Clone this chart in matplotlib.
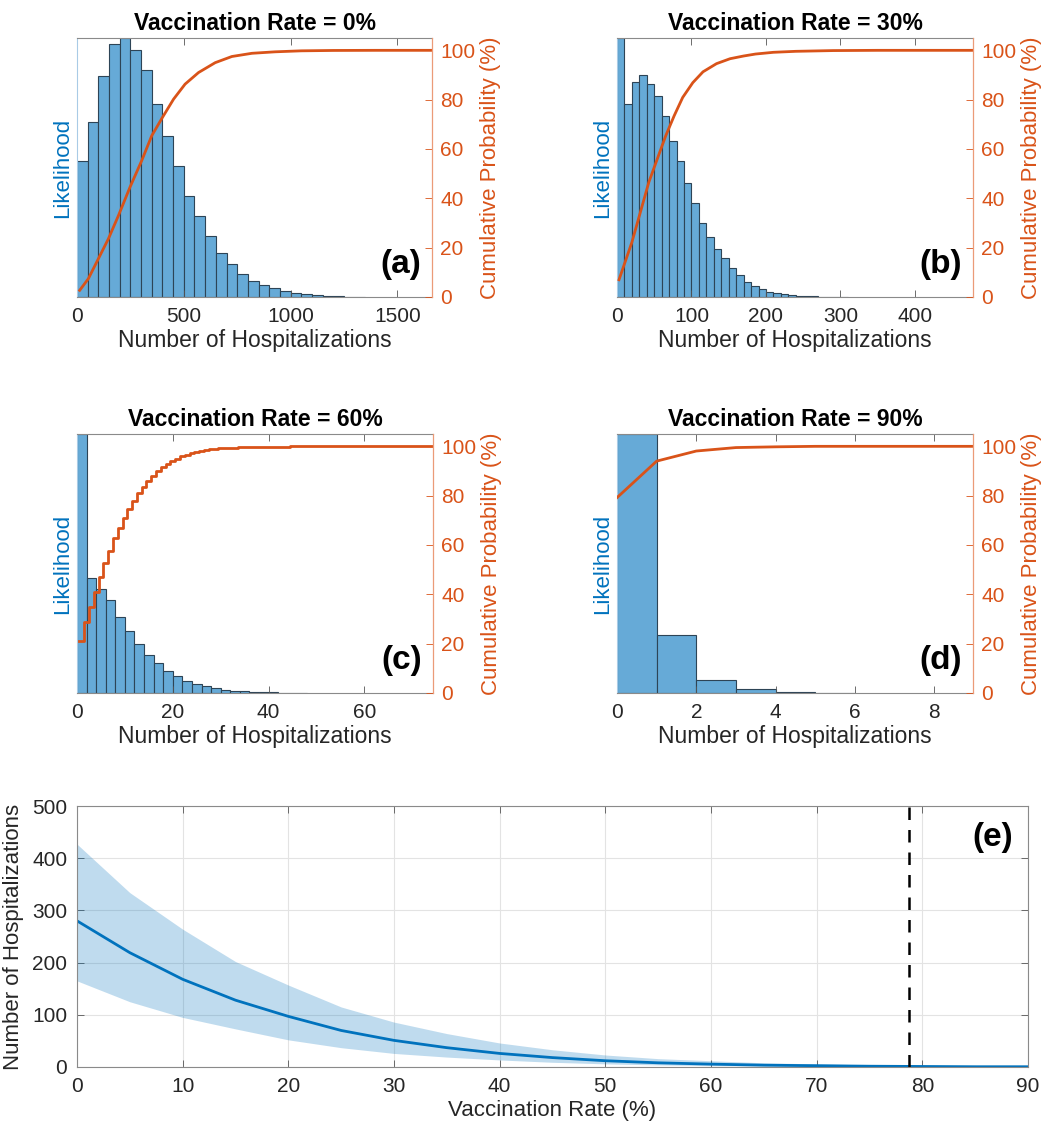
import matplotlib
matplotlib.use('Agg')
import matplotlib.pyplot as plt
import numpy as np

plt.rcParams['font.family'] = ['Liberation Sans', 'DejaVu Sans']

BLUE = '#0072BD'
ORANGE = '#D95319'
BAR = '#66aad7'
EDGE = '#2d4456'
TXT = '#262626'

# ---- histogram data (relative heights) ----
rates = ['0%', '30%', '60%', '90%']
panel_tags = ['(a)', '(b)', '(c)', '(d)']
bin_widths = [50, 10, 2, 1]
x_limits = [1662, 478, 74.3, 8.98]
x_ticks = [[0, 500, 1000, 1500], [0, 100, 200, 300, 400], [0, 20, 40, 60], [0, 2, 4, 6, 8]]

hist_a = [408, 526, 665, 760, 778, 743, 683, 581, 485, 393, 303, 243, 183, 133,
          100, 70, 49, 35, 27, 18, 12, 8, 5, 3, 2, 1, 1]
hist_b = [778, 581, 646, 666, 641, 605, 545, 470, 410, 341, 281, 221, 181, 143,
          117, 88, 66, 46, 33, 23, 16, 11, 8, 5, 4, 3, 2, 1, 1, 0.5, 0.5]
hist_c = [778, 344, 313, 278, 228, 186, 146, 114, 89, 67, 52, 37, 27, 20, 14,
          10, 7, 5, 4, 3, 2, 1.5, 1, 0.5]
hist_d = [778, 175, 39, 12, 4, 1]

# ---- cumulative probability curves (%) ----
cdf_a_x = [12.5, 53, 100, 147, 194, 248, 303, 350, 400, 452, 506, 569, 647,
           725, 819, 928, 1050, 1200, 1400, 1662]
cdf_a_y = [2.7, 7.4, 15.5, 23.6, 33, 44.5, 55.3, 65.4, 72.8, 80.2, 86.3, 91,
           95, 97.5, 98.8, 99.4, 99.8, 99.95, 100, 100]

cdf_b_x = [2.7, 10.9, 20, 31.4, 42.7, 54, 65.5, 76.8, 88.2, 101.8, 115.5,
           133.6, 151.8, 170, 186, 210, 240, 290, 350, 478]
cdf_b_y = [7, 14.2, 22.2, 34.4, 46.5, 55.9, 65.4, 73.5, 80.9, 86.9, 91.3,
           94.6, 96.6, 97.7, 98.5, 99.2, 99.6, 99.9, 100, 100]

cdf_c_x = [0.5, 1.5, 2.5, 3.5, 4.5, 5.5, 6.5, 7.5, 8.5, 9.5, 10.5, 11.5, 12.5,
           13.5, 14.5, 15.5, 16.5, 17.5, 18.5, 19.5, 20.5, 21.5, 22.5, 23.5,
           24.5, 25.5, 26.5, 27.5, 28.5, 29.5, 31.5, 33.5, 35.5, 37.5, 39.5,
           44.5, 74.3]
cdf_c_y = [20.9, 28.6, 35.0, 41.1, 47.2, 52.6, 57.7, 62.7, 66.7, 70.8, 74.4,
           77.9, 80.9, 83.6, 86.0, 88.1, 90.0, 91.6, 93.0, 94.1, 95.0, 96.0,
           96.6, 97.3, 97.8, 98.3, 98.6, 98.9, 99.1, 99.3, 99.45, 99.65, 99.8,
           99.88, 99.93, 100, 100]

cdf_d_x = [0, 1, 2, 3, 4, 5, 6, 7, 8, 9]
cdf_d_y = [79.2, 94, 98.1, 99.5, 99.8, 100, 100, 100, 100, 100]

hists = [hist_a, hist_b, hist_c, hist_d]
cdfs = [(cdf_a_x, cdf_a_y, False), (cdf_b_x, cdf_b_y, False),
        (cdf_c_x, cdf_c_y, True), (cdf_d_x, cdf_d_y, False)]

# ---- panel (e) data ----
vacc = [0, 5, 10, 15, 20, 25, 30, 35, 40, 45, 50, 55, 60, 65, 70, 75, 80, 85, 90]
hosp_mean = [280, 219, 168, 128, 97, 70, 51, 37, 26, 18, 12, 8, 5.5, 3.5, 2.5, 1.5, 1, 0.5, 0.5]
hosp_upper = [427, 334, 264, 202, 157, 115, 86, 64, 46, 33, 23, 16, 12, 8, 6, 4, 2.5, 2, 1.5]
hosp_lower = [165, 125, 95, 73, 52, 37, 26, 19, 13.5, 9, 6, 4, 2.5, 2, 1.3, 0.5, 0.3, 0.2, 0.1]
threshold = 78.7

W, H = 1048, 1129
fig = plt.figure(figsize=(W / 100, H / 100), dpi=100)

# axes boxes in pixels: left, top, right, bottom
boxes = [(77, 38, 432, 297), (617, 38, 973, 297),
         (77, 434, 433, 693), (617, 434, 973, 693)]


def px_axes(l, t, r, b):
    return fig.add_axes([l / W, 1 - b / H, (r - l) / W, (b - t) / H])


for i in range(4):
    ax = px_axes(*boxes[i])
    h = np.array(hists[i], dtype=float)
    edges = np.arange(len(h)) * bin_widths[i]
    ax.bar(edges, h, width=bin_widths[i], align='edge', color=BAR,
           edgecolor=EDGE, linewidth=0.8)
    ax.set_xlim(0, x_limits[i])
    ax.set_ylim(0, h.max())
    ax.set_yticks([])
    ax.set_xticks(x_ticks[i])
    ax.tick_params(axis='x', direction='in', top=True, length=5, width=0.6,
                   labelsize=15, colors='#555555', labelcolor=TXT, pad=7)
    for s in ['top', 'bottom']:
        ax.spines[s].set_color('#8a8a8a')
        ax.spines[s].set_linewidth(0.8)
    ax.spines['left'].set_color('#a9cbe6')
    ax.spines['right'].set_visible(False)
    ax.set_ylabel('Likelihood', color=BLUE, fontsize=16, labelpad=3)
    ax.set_xlabel('Number of Hospitalizations', color=TXT, fontsize=16.5, labelpad=2)
    ax.set_title('Vaccination Rate = ' + rates[i], fontsize=16.5,
                 fontweight='bold', pad=6)

    ax2 = ax.twinx()
    cx, cy, stepped = cdfs[i]
    if stepped:
        ax2.step(cx, cy, where='post', color=ORANGE, lw=2)
    else:
        ax2.plot(cx, cy, color=ORANGE, lw=2)
    ax2.set_ylim(0, 105)
    ax2.set_yticks([0, 20, 40, 60, 80, 100])
    ax2.tick_params(axis='y', direction='in', length=5, width=0.6,
                    colors=ORANGE, labelsize=15, pad=6)
    ax2.spines['right'].set_color('#eb9b78')
    ax2.spines['right'].set_linewidth(0.9)
    for s in ['top', 'bottom', 'left']:
        ax2.spines[s].set_visible(False)
    ax2.set_ylabel('Cumulative Probability (%)', color=ORANGE, fontsize=16,
                   labelpad=3)
    ax2.text(0.968, 0.125, panel_tags[i], transform=ax2.transAxes,
             ha='right', va='center', fontsize=24, fontweight='bold')

# ---- panel (e) ----
axe = px_axes(77, 806, 1028, 1067)
axe.fill_between(vacc, hosp_lower, hosp_upper, color=BLUE, alpha=0.25,
                 linewidth=0)
axe.plot(vacc, hosp_mean, color=BLUE, lw=2)
axe.axvline(threshold, color='k', ls=(0, (5, 4)), lw=1.8)
axe.set_xlim(0, 90)
axe.set_ylim(0, 500)
axe.set_xticks(range(0, 91, 10))
axe.set_yticks(range(0, 501, 100))
axe.grid(True, color='#e3e3e3', lw=0.8)
axe.set_axisbelow(True)
axe.tick_params(direction='in', top=True, right=True, length=5, width=0.6,
                labelsize=15, colors='#555555', labelcolor=TXT, pad=7)
for s in axe.spines.values():
    s.set_color('#8a8a8a')
    s.set_linewidth(0.8)
axe.set_xlabel('Vaccination Rate (%)', color=TXT, fontsize=16, labelpad=3)
axe.set_ylabel('Number of Hospitalizations', color=TXT, fontsize=16, labelpad=6)
axe.text(0.984, 0.88, '(e)', transform=axe.transAxes, ha='right',
         va='center', fontsize=24, fontweight='bold')

fig.savefig('out.png', dpi=100)
